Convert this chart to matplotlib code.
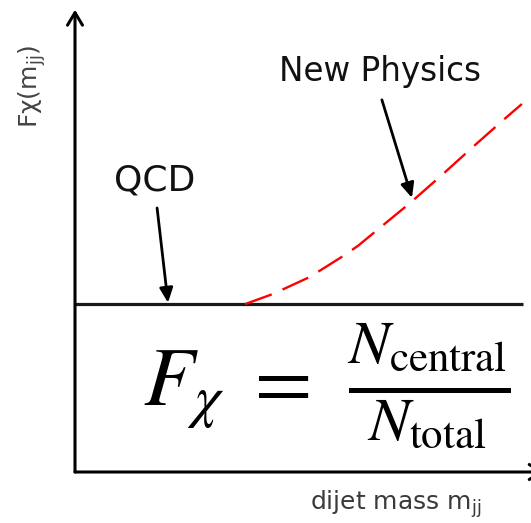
import matplotlib
matplotlib.use("Agg")
import matplotlib.pyplot as plt

# Schematic F_chi versus dijet mass, arbitrary units (axes span 0..1)
qcd_mass = [0.0, 0.982]
qcd_ratio = [0.365, 0.365]

np_mass = [0.373, 0.434, 0.515, 0.592, 0.621, 0.735, 0.805, 0.873, 0.939, 0.980]
np_ratio = [0.365, 0.387, 0.424, 0.472, 0.492, 0.585, 0.646, 0.707, 0.765, 0.800]

qcd_label = "QCD"
np_label = "New Physics"
x_label = "dijet mass m$_{\\rm jj}$"
y_label = "F\u03c7(m$_{\\rm jj}$)"

fig = plt.figure(figsize=(5.31, 5.23), dpi=100)
ax = fig.add_axes([75 / 531, 51 / 523, 456 / 531, 460 / 523])
ax.set_xlim(0, 1)
ax.set_ylim(0, 1)
ax.axis("off")

# axes drawn as arrows
ax.annotate("", xy=(0, 1.005), xytext=(0, 0), xycoords="axes fraction",
            arrowprops=dict(arrowstyle="->,head_length=0.5,head_width=0.3",
                            lw=2.2, color="black", shrinkA=0, shrinkB=0,
                            mutation_scale=18), annotation_clip=False)
ax.annotate("", xy=(1.03, 0), xytext=(0, 0), xycoords="axes fraction",
            arrowprops=dict(arrowstyle="->,head_length=0.5,head_width=0.3",
                            lw=2.2, color="black", shrinkA=0, shrinkB=0,
                            mutation_scale=18), annotation_clip=False)

# QCD expectation: flat
ax.plot(qcd_mass, qcd_ratio, color="#1a1a1a", lw=2.3, solid_capstyle="butt",
        clip_on=False)

# new physics: rising, dashed red
ax.plot(np_mass, np_ratio, color="#ff0000", lw=1.7,
        linestyle=(0, (12, 5.0)), clip_on=False)

# labels with pointing arrows
ax.text(0.175, 0.613, qcd_label, fontsize=26, ha="center", va="baseline",
        color="#111111")
ax.annotate("", xy=(0.204, 0.368), xytext=(0.180, 0.574),
            arrowprops=dict(arrowstyle="-|>,head_length=0.55,head_width=0.25",
                            lw=2.0, color="black", shrinkA=0, shrinkB=0,
                            mutation_scale=16))

ax.text(0.669, 0.850, np_label, fontsize=23.5, ha="center", va="baseline",
        color="#111111")
ax.annotate("", xy=(0.739, 0.596), xytext=(0.673, 0.809),
            arrowprops=dict(arrowstyle="-|>,head_length=0.55,head_width=0.25",
                            lw=2.0, color="black", shrinkA=0, shrinkB=0,
                            mutation_scale=16))

# axis titles
ax.text(0.704, -0.083, x_label, fontsize=18, ha="center", va="baseline",
        color="#3a3a3a")
ax.text(-0.094, 0.839, y_label, fontsize=18, ha="center", va="center",
        rotation=90, color="#444444")

# definition of the ratio
ax.text(0.149, 0.143, r"$F_\chi$", fontsize=60, ha="left", va="baseline",
        math_fontfamily="stix", color="black")
ax.text(0.366, 0.143, r"$=$", fontsize=60, ha="left", va="baseline",
        math_fontfamily="stix", color="black")
ax.text(0.597, 0.143, r"$\frac{N_{\rm central}}{N_{\rm total}}$", fontsize=63,
        ha="left", va="baseline", math_fontfamily="stix", color="black")

fig.savefig("out.png", dpi=100, facecolor="white")
